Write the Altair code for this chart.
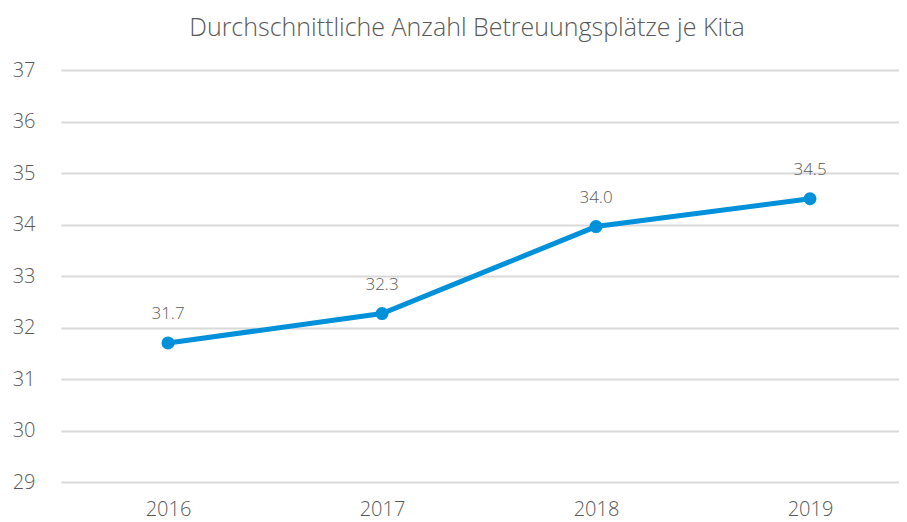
import altair as alt
import pandas as pd

years = ["2016", "2017", "2018", "2019"]
values = [31.7, 32.27, 33.96, 34.5]
labels = ["31.7", "32.3", "34.0", "34.5"]

df = pd.DataFrame({"year": years, "value": values, "label": labels})

FONT = "Open Sans"
TXT = "#595959"
BLUE = "#0091DA"

x = alt.X("year:O", sort=years, title=None,
          scale=alt.Scale(type="point", padding=0.458, align=0.546),
          axis=alt.Axis(labelAngle=0, labelFontSize=20, labelColor=TXT, labelFont=FONT,
                        labelFontWeight=300, domain=False, ticks=False, labelPadding=17, grid=False))
y = alt.Y("value:Q", title=None,
          scale=alt.Scale(domain=[29, 37], nice=False, zero=False),
          axis=alt.Axis(values=list(range(29, 38)), labelFontSize=20, labelColor=TXT, labelFont=FONT,
                        labelFontWeight=300, domain=False, ticks=False, labelPadding=26,
                        grid=True, gridColor="#d9d9d9", gridWidth=2))

base = alt.Chart(df).encode(x=x, y=y)
line = base.mark_line(color=BLUE, strokeWidth=5)
pts = base.mark_point(filled=True, color=BLUE, size=170, opacity=1)
txt = base.mark_text(dy=-29, fontSize=17, font=FONT, fontWeight=300, color=TXT).encode(text="label:N")

chart = (line + pts + txt).properties(
    width=838, height=412,
    autosize=alt.AutoSizeParams(type="none"),
    padding={"left": 53, "top": 62, "right": 0, "bottom": 40},
    title=alt.TitleParams("Durchschnittliche Anzahl Betreuungsplätze je Kita", fontSize=25,
                          font=FONT, fontWeight=300, color=TXT, anchor="middle", dx=-13, offset=19),
).configure_view(stroke=None)

chart.save("out.html", embed_options={"renderer": "svg", "actions": False})
